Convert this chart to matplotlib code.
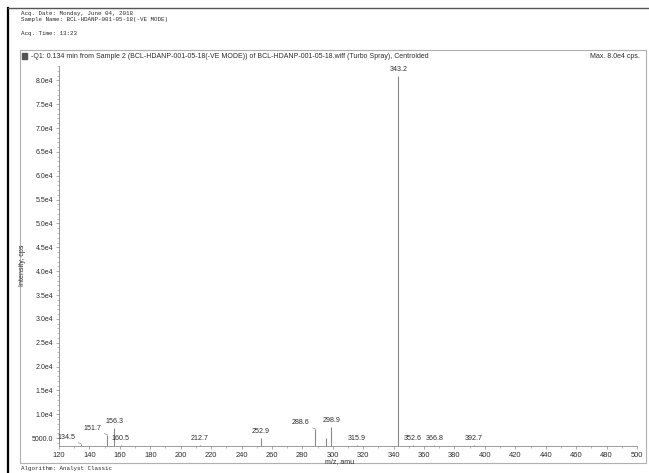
import numpy as np
import matplotlib
matplotlib.use("Agg")
import matplotlib.pyplot as plt
from matplotlib.lines import Line2D
from matplotlib.patches import Rectangle
from matplotlib.ticker import MultipleLocator, FuncFormatter

# centroided peaks
mz = [134.5, 151.7, 156.3, 160.5, 212.7, 252.9, 288.6, 295.6, 298.9,
      315.9, 343.2, 352.6, 366.8, 392.7]
intensity = [3800, 5700, 7100, 3600, 3600, 5000, 6900, 5000, 7300,
             3600, 81000, 3600, 3600, 3600]
peak_labels = ["134.5", "151.7", "156.3", "160.5", "212.7", "252.9", "288.6", "",
               "298.9", "315.9", "343.2", "352.6", "366.8", "392.7"]
# labels pushed to the left with a leader line
shifted = ["134.5", "151.7", "288.6"]

x_ticks = list(range(120, 501, 20))
y_ticks = [5000] + list(range(10000, 80001, 5000))

header = ["Acq. Date: Monday, June 04, 2018",
          "Sample Name: BCL-HDANP-001-05-18(-VE MODE)",
          "Acq. Time: 13:23"]
title = ("-Q1: 0.134 min from Sample 2 (BCL-HDANP-001-05-18(-VE MODE)) of "
         "BCL-HDANP-001-05-18.wiff (Turbo Spray), Centroided")
max_text = "Max. 8.0e4 cps."
footer = "Algorithm: Analyst Classic"

W, H = 649, 473
TXT = "#2c2c2c"
LINE = "#8a8a8a"
plt.rcParams["font.family"] = ["Liberation Sans", "DejaVu Sans"]

fig = plt.figure(figsize=(W / 100, H / 100), dpi=100)


def fx(px):
    return px / W


def fy(py):
    return 1 - py / H


# scan frame and panel
fig.add_artist(Line2D([fx(8), fx(8)], [0, fy(8)], color="black", lw=1.6))
fig.add_artist(Line2D([fx(8), 1], [fy(8), fy(8)], color="#555555", lw=1.0))
fig.patches.append(Rectangle((fx(20), fy(463)), fx(646) - fx(20), fy(50) - fy(463),
                             transform=fig.transFigure, fill=False,
                             edgecolor="#b0b0b0", lw=0.8))
fig.patches.append(Rectangle((fx(22), fy(59)), fx(5), fy(53) - fy(59),
                             transform=fig.transFigure, color="#555555"))

# header in typewriter font
for txt, py in zip(header, [14, 20, 34]):
    fig.text(fx(21), fy(py), txt, family="Liberation Mono", fontsize=4.2,
             color=TXT, va="center")
fig.text(fx(31), fy(56), title, fontsize=5.05, color=TXT, va="center")
fig.text(fx(640), fy(56), max_text, fontsize=5.05, color=TXT, va="center", ha="right")
fig.text(fx(21), fy(468), footer, family="Liberation Mono", fontsize=4.2,
         color=TXT, va="center")

ax = fig.add_axes([fx(59), fy(446), fx(637) - fx(59), fy(66) - fy(446)])
ax.vlines(mz, 0, intensity, color=LINE, lw=0.8)

ax.set_xlim(120, 500)
ax.set_ylim(3350, 83000)

for m, v, lab in zip(mz, intensity, peak_labels):
    if not lab:
        continue
    if lab in shifted:
        ax.annotate(lab, xy=(m, v), xytext=(-4, 2), textcoords="offset points",
                    ha="right", va="bottom", fontsize=5.1, color=TXT,
                    arrowprops=dict(arrowstyle="-", color=LINE, lw=0.5,
                                    shrinkA=0, shrinkB=0))
    else:
        ax.annotate(lab, xy=(m, v), xytext=(0, 2), textcoords="offset points",
                    ha="center", va="bottom", fontsize=5.1, color=TXT)

for s in ["top", "right"]:
    ax.spines[s].set_visible(False)
for s in ["left", "bottom"]:
    ax.spines[s].set_color(LINE)
    ax.spines[s].set_linewidth(0.6)

ax.set_xticks(x_ticks)
ax.set_yticks(y_ticks)
ax.xaxis.set_minor_locator(MultipleLocator(10))
ax.yaxis.set_minor_locator(MultipleLocator(1000))
ax.yaxis.set_major_formatter(FuncFormatter(
    lambda v, p: "5000.0" if v < 10000 else "%.1fe4" % (v / 1e4)))
ax.tick_params(which="major", length=2.5, width=0.5, color=LINE,
               labelsize=5.4, labelcolor=TXT, pad=1.5)
ax.tick_params(which="minor", length=1.3, width=0.4, color=LINE)
ax.tick_params(axis="y", labelsize=5.0)

fig.text(fx(22), fy(265), "Intensity, cps", rotation=90, fontsize=5.1,
         color=TXT, va="center", ha="center")
fig.text(fx(340), fy(462), "m/z, amu", fontsize=5.1, color=TXT,
         va="center", ha="center")

fig.savefig("out.png", dpi=100, facecolor="white")
